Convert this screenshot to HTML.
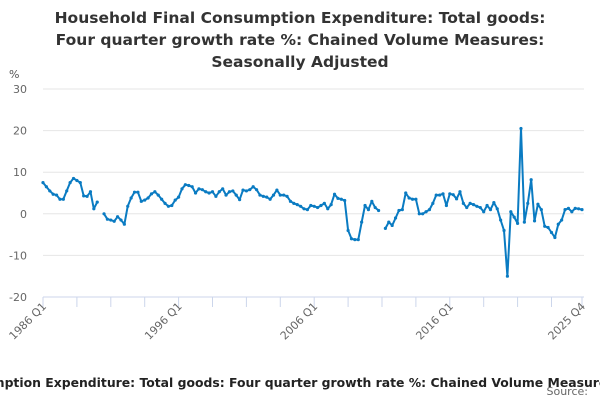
<!DOCTYPE html>
<html><head><meta charset="utf-8"><style>
body{margin:0;background:#fff;width:600px;height:400px;overflow:hidden;font-family:"DejaVu Sans","Liberation Sans",sans-serif}
svg text{font-family:"DejaVu Sans","Liberation Sans",sans-serif}
</style></head><body>
<svg id="chart" width="600" height="400" xmlns="http://www.w3.org/2000/svg">
<g font-size="15.5" font-weight="bold" fill="#333" text-anchor="middle">
<text x="300" y="23">Household Final Consumption Expenditure: Total goods:</text>
<text x="300" y="45">Four quarter growth rate %: Chained Volume Measures:</text>
<text x="300" y="67">Seasonally Adjusted</text>
</g>
<text x="9" y="78" font-size="11" fill="#555">%</text>
<g id="grid"></g>
<g id="xaxis"></g>
<path id="line" fill="none" stroke="#0a7bc2" stroke-width="2" stroke-linejoin="round"></path>
<g id="dots"></g>
<text x="299" y="387" font-size="12.4" font-weight="bold" fill="#222" text-anchor="middle">Household Final Consumption Expenditure: Total goods: Four quarter growth rate %: Chained Volume Measures: Seasonally Adjusted</text>
<text x="588" y="395" font-size="11" fill="#666" text-anchor="end">Source:</text>
</svg>
<script>
const startYear = 1986;
const yTicks = [30, 20, 10, 0, -10, -20];
const values = [
7.5,6.5,5.5,4.7, 4.5,3.5,3.5,5.5, 7.5,8.5,8,7.5, 4.3,4.2,5.3,1.2,
2.8,null,0,-1.3, -1.5,-1.8,-0.7,-1.5, -2.5,1.8,3.8,5.2, 5.2,3,3.3,3.8,
4.8,5.3,4.5,3.5, 2.5,1.8,2,3.3, 4,6,7,6.8, 6.5,5,6,5.8,
5.3,5,5.3,4.2, 5.3,6,4.5,5.3, 5.5,4.5,3.4,5.7, 5.5,5.8,6.5,5.8,
4.5,4.2,4,3.5, 4.5,5.7,4.5,4.5, 4.2,3,2.5,2.2, 1.8,1.2,1,2,
1.8,1.5,2,2.5, 1.2,2.2,4.7,3.7, 3.5,3.2,-4,-6, -6.2,-6.2,-2,2,
1,3,1.5,0.8, null,-3.5,-2,-2.8, -1,0.8,1,5, 3.8,3.5,3.5,0,
0,0.5,1,2.5, 4.5,4.5,4.8,2, 4.8,4.6,3.6,5.3, 2.5,1.5,2.5,2.2,
1.8,1.5,0.5,2, 1,2.7,1.2,-1.5, -4,-15,0.5,-0.8, -2.3,20.5,-2,2.5,
8.2,-1.7,2.3,1, -3,-3.3,-4.5,-5.7, -2.5,-1.5,1,1.3, 0.5,1.3,1.2,1.0
];
const x0=43, x1=582, yTop=89, yBot=297;
function xs(i){return x0+(x1-x0)*i/(values.length-1);}
function ys(v){return yBot-(v-(-20))*(yBot-yTop)/50;}
const NS='http://www.w3.org/2000/svg';
const grid=document.getElementById('grid');
yTicks.forEach(t=>{
  const l=document.createElementNS(NS,'line');
  
  
  l.setAttribute('x1',x0);l.setAttribute('x2',x1+2);l.setAttribute('y1',ys(t));l.setAttribute('y2',ys(t));
  l.setAttribute('stroke',t===-20?'#ccd6eb':'#e6e6e6');l.setAttribute('stroke-width','1');
  grid.appendChild(l);
  const tx=document.createElementNS(NS,'text');
  
  
  tx.setAttribute('x',27);tx.setAttribute('y',ys(t)+4);tx.setAttribute('text-anchor','end');
  tx.setAttribute('font-size','11');tx.setAttribute('fill','#666');tx.textContent=t;
  grid.appendChild(tx);
});
const xa=document.getElementById('xaxis');
const tickIdx=[];for(let i=0;i<values.length;i+=10)tickIdx.push(i);tickIdx.push(values.length-1);
tickIdx.forEach(i=>{
  const l=document.createElementNS(NS,'line');
  
  
  l.setAttribute('x1',xs(i));l.setAttribute('x2',xs(i));l.setAttribute('y1',yBot);l.setAttribute('y2',yBot+10);
  l.setAttribute('stroke','#ccd6eb');xa.appendChild(l);
});
const labelIdx=[0,40,80,120,values.length-1];
labelIdx.forEach(i=>{
  const yr=startYear+Math.floor(i/4), q=i%4+1;
  const tx=document.createElementNS(NS,'text');
  
  
  const x=xs(i)+4,y=yBot+10;
  tx.setAttribute('x',x);tx.setAttribute('y',y);tx.setAttribute('text-anchor','end');
  tx.setAttribute('transform','rotate(-45 '+x+' '+y+')');
  tx.setAttribute('font-size','11');tx.setAttribute('fill','#666');tx.textContent=yr+' Q'+q;
  xa.appendChild(tx);
});
let d='',pen=false;
const dots=document.getElementById('dots');
values.forEach((v,i)=>{
  if(v===null){pen=false;return;}
  d+=(pen?'L':'M')+xs(i).toFixed(1)+' '+ys(v).toFixed(1);pen=true;
  const c=document.createElementNS(NS,'circle');
  
  
  c.setAttribute('cx',xs(i));c.setAttribute('cy',ys(v));c.setAttribute('r','1.6');c.setAttribute('fill','#0a7bc2');
  dots.appendChild(c);
});
document.getElementById('line').setAttribute('d',d);
</script>
</body></html>
